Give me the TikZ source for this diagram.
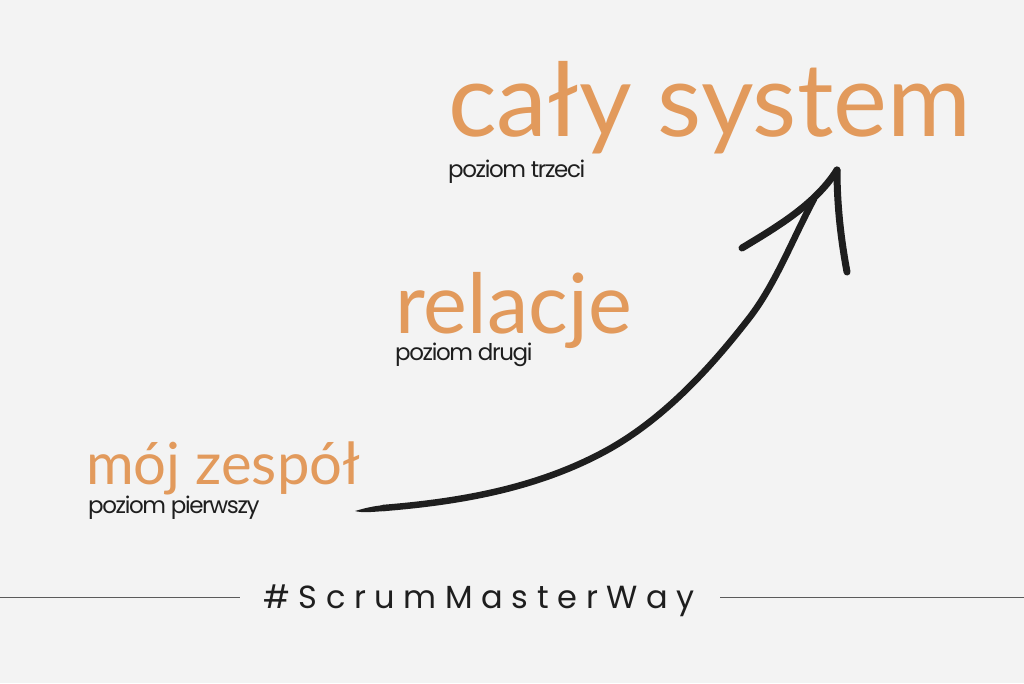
\documentclass[tikz,border=0pt]{standalone}
\usepackage{fontspec}
\setmainfont{Poppins}
\newfontfamily\titlefont{Lato}
\usepackage{xcolor}
\definecolor{bgGray}{HTML}{F3F3F3}
\definecolor{orangeTxt}{HTML}{E29A5C}
\definecolor{darkTxt}{HTML}{1E1E1E}
\definecolor{ruleGray}{HTML}{5A5A5A}

\tikzset{
  title/.style={anchor=base west, inner sep=0pt, text depth=0pt, text=orangeTxt},
  sub/.style={anchor=base west, inner sep=0pt, text=darkTxt, font=\fontsize{23}{23}\selectfont\addfontfeatures{LetterSpace=-6}},
  stroke/.style={draw=darkTxt, line width=7pt, line cap=round, line join=round}
}

\begin{document}
\begin{tikzpicture}[x=1pt, y=-1pt]
        \fill[bgGray] (0, 0) rectangle (1024, 683);
        \useasboundingbox (0, 0) rectangle (1024, 683);

        % levels
        \node[title, font=\titlefont\fontsize{102}{102}\selectfont] (level3) at (448, 136) {cały system};
        \node[sub] (level3sub) at (448, 177) {poziom trzeci};
        \node[title, font=\titlefont\fontsize{83}{83}\selectfont] (level2) at (395, 333) {relacje};
        \node[sub] (level2sub) at (395, 360) {poziom drugi};
        \node[title, font=\titlefont\fontsize{58}{58}\selectfont] (level1) at (86, 484) {mój zespół};
        \node[sub] (level1sub) at (88, 513) {poziom pierwszy};

        % arrow
        \coordinate (tail) at (355, 511);
        \coordinate (joint) at (814, 199);
        \coordinate (tip) at (837, 170);
        \fill[darkTxt] (tail) .. controls (362, 509) and (372, 506) .. (385, 505) -- (385, 511) .. controls (372, 512) and (362, 513) .. cycle;
        \draw[stroke, line width=6.5pt] (383, 508) .. controls (458, 502) and (533, 489) .. (600, 454)
            .. controls (660, 423) and (709, 370) .. (750, 317)
            .. controls (776, 283) and (793, 238) .. (joint);
        \draw[stroke] (742, 248) .. controls (775, 228) and (815, 205) .. (tip);
        \draw[stroke] (tip) .. controls (837, 210) and (842, 245) .. (847, 272);

        % hashtag
        \node[inner sep=0pt, anchor=base, text=darkTxt, font=\fontsize{32}{32}\selectfont\addfontfeatures{LetterSpace=27}] (tag) at (479, 608) {\#ScrumMasterWay};
        \coordinate (ruleL) at (0, 597);
        \coordinate (ruleR) at (1024, 597);
        \draw[ruleGray, line width=1pt] (ruleL) -- (240, 597);
        \draw[ruleGray, line width=1pt] (720, 597) -- (ruleR);
\end{tikzpicture}
\end{document}
